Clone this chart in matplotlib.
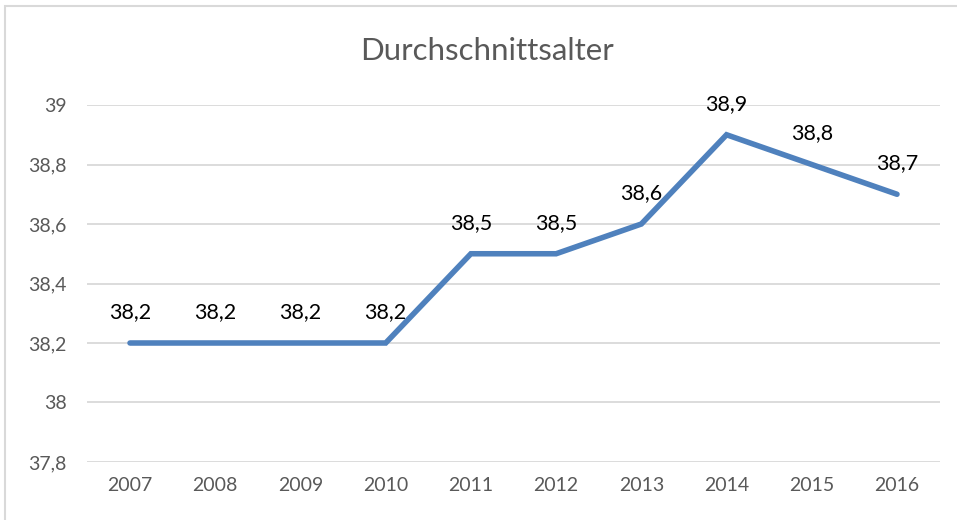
import matplotlib.pyplot as plt
from matplotlib.patches import Rectangle

years = ['2007', '2008', '2009', '2010', '2011', '2012', '2013', '2014', '2015', '2016']
values = [38.2, 38.2, 38.2, 38.2, 38.5, 38.5, 38.6, 38.9, 38.8, 38.7]
y_ticks = [37.8, 38.0, 38.2, 38.4, 38.6, 38.8, 39.0]
y_labels = ['37,8', '38', '38,2', '38,4', '38,6', '38,8', '39']

plt.rcParams['font.family'] = ['Lato', 'DejaVu Sans']

fig = plt.figure(figsize=(9.57, 5.2), dpi=100)
# outer chart border (cut off at right and bottom like the screenshot)
fig.patches.append(Rectangle((5 / 957, -0.05), 1.0, 1 - 6 / 520 + 0.05,
                             transform=fig.transFigure, fill=False,
                             edgecolor='#D9D9D9', linewidth=1.5))

ax = fig.add_axes([87.4 / 957, 1 - 462 / 520, (939.6 - 87.4) / 957, (462 - 105) / 520])
x = range(len(years))
ax.plot(x, values, color='#4F81BD', linewidth=4, solid_capstyle='round', solid_joinstyle='miter', zorder=3)

for xi, v in zip(x, values):
    ax.annotate(f'{v:.1f}'.replace('.', ','), (xi, v), textcoords='offset pixels',
                xytext=(0, 31), ha='center', va='center', fontsize=15.5, color='black')

ax.set_xlim(-0.5, len(years) - 0.5)
ax.set_ylim(37.8, 39.0)
ax.set_yticks(y_ticks)
ax.set_yticklabels(y_labels)
ax.set_xticks(list(x))
ax.set_xticklabels(years)
ax.grid(axis='y', color='#D9D9D9', linewidth=1.3)
ax.set_axisbelow(True)
for s in ax.spines.values():
    s.set_visible(False)
ax.tick_params(length=0, labelsize=14, labelcolor='#595959')
ax.tick_params(axis='y', pad=15)
ax.tick_params(axis='x', pad=11)
ax.set_clip_on(False)

fig.text(487 / 957, 1 - 51 / 520, 'Durchschnittsalter', ha='center', va='center',
         fontsize=22.5, color='#595959')

fig.savefig('out.png', dpi=100)
